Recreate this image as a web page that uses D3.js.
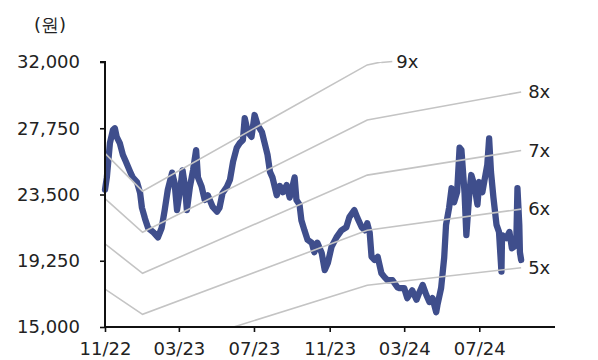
<!DOCTYPE html>
<html><head><meta charset="utf-8">
<script src="https://cdn.jsdelivr.net/npm/d3@7"></script>
<style>
html,body{margin:0;padding:0;background:#fff;}
svg text{font-family:"DejaVu Sans",sans-serif;fill:#222;}
</style></head>
<body><svg id="c" width="598" height="360"></svg>
<script>
const priceDates = ["2022-11-01","2022-11-04","2022-11-09","2022-11-14","2022-11-17","2022-11-20","2022-11-25","2022-11-30","2022-12-05","2022-12-12","2022-12-16","2022-12-23","2022-12-28","2022-12-31","2023-01-05","2023-01-10","2023-01-18","2023-01-26","2023-02-01","2023-02-06","2023-02-11","2023-02-18","2023-02-22","2023-02-26","2023-03-03","2023-03-07","2023-03-11","2023-03-14","2023-03-19","2023-03-24","2023-03-29","2023-04-01","2023-04-07","2023-04-12","2023-04-17","2023-04-25","2023-05-02","2023-05-06","2023-05-11","2023-05-18","2023-05-23","2023-05-28","2023-06-03","2023-06-08","2023-06-13","2023-06-16","2023-06-21","2023-06-27","2023-07-02","2023-07-07","2023-07-14","2023-07-18","2023-07-23","2023-07-27","2023-07-31","2023-08-07","2023-08-12","2023-08-17","2023-08-23","2023-08-28","2023-09-02","2023-09-05","2023-09-08","2023-09-13","2023-09-16","2023-09-21","2023-09-26","2023-10-03","2023-10-07","2023-10-12","2023-10-19","2023-10-24","2023-10-29","2023-11-04","2023-11-12","2023-11-20","2023-11-28","2023-12-03","2023-12-11","2023-12-16","2023-12-23","2023-12-28","2024-01-01","2024-01-05","2024-01-08","2024-01-13","2024-01-18","2024-01-24","2024-01-29","2024-02-03","2024-02-11","2024-02-19","2024-02-22","2024-03-01","2024-03-06","2024-03-14","2024-03-21","2024-03-26","2024-03-31","2024-04-06","2024-04-11","2024-04-16","2024-04-22","2024-04-24","2024-04-30","2024-05-05","2024-05-08","2024-05-13","2024-05-17","2024-05-21","2024-05-26","2024-05-30","2024-06-02","2024-06-07","2024-06-10","2024-06-15","2024-06-18","2024-06-23","2024-06-28","2024-07-01","2024-07-06","2024-07-11","2024-07-14","2024-07-17","2024-07-20","2024-07-24","2024-07-29","2024-08-02","2024-08-06","2024-08-07","2024-08-14","2024-08-19","2024-08-23","2024-08-30","2024-09-01","2024-09-04","2024-09-05","2024-09-07"];
const priceValues = [23800,24600,26800,27650,27750,27200,26800,26050,25600,24950,24600,24300,23600,22650,21950,21350,21100,20750,21350,22500,23800,24900,24250,22500,23800,25050,24000,22500,24000,25050,26350,24600,24000,23150,23450,22700,22400,22650,23600,24000,24450,25600,26500,26800,27000,28400,27500,27200,28600,27950,27500,26850,26050,24950,24600,23450,24050,23650,24100,23300,24100,24600,23150,22850,21850,21200,20600,20400,19800,20400,19750,18650,19100,20150,20750,21200,21400,22050,22500,22000,21400,21200,21650,21050,19500,19300,19500,18450,18200,18000,18000,17550,17500,17500,16850,17350,16750,17250,17700,17050,16600,16850,15950,16400,17500,19450,21550,22650,23900,23000,23650,26500,26350,23650,20900,23650,24750,24100,22850,24300,23650,24750,25400,27100,24950,23300,21550,21100,18550,20900,20700,21100,20050,20250,23900,21550,19800,19300];
const epsDates = ["2022-11-01","2023-01-01","2024-01-01","2024-09-07"];
const epsValues = [2905,2635,3535,3760];
const multiples = [5,6,7,8,9];
const bandLabels = ["5x","6x","7x","8x","9x"];
const yTicks = [15000,19250,23500,27750,32000];
const xTickDates = ["2022-11-01","2023-03-01","2023-07-01","2023-11-01","2024-03-01","2024-07-01"];
const xTickLabels = ["11/22","03/23","07/23","11/23","03/24","07/24"];
const unitLabel = "(원)";

const parse = d3.timeParse("%Y-%m-%d");
const svg = d3.select("#c");
const L = 105, R = 555, T = 62, B = 327;
const FS = 18;
const x = d3.scaleTime().domain([parse("2022-11-01"), parse("2024-11-01")]).range([L, R]);
const y = d3.scaleLinear().domain([15000, 32000]).range([B, T]);

svg.append("defs").append("clipPath").attr("id","clip")
  .append("rect").attr("x",L).attr("y",T).attr("width",R-L).attr("height",B-T);

// price line
const price = priceDates.map((d,i)=>({d:parse(d),v:priceValues[i]}));
svg.append("path").datum(price)
  .attr("fill","none").attr("stroke","#3f4e8c").attr("stroke-width",6.3)
  .attr("stroke-linejoin","round").attr("stroke-linecap","round")
  .attr("d", d3.line().x(p=>x(p.d)).y(p=>y(p.v)));

// PER bands
const eps = epsDates.map((d,i)=>({d:parse(d),e:epsValues[i]}));
const bandG = svg.append("g").attr("clip-path","url(#clip)");
multiples.forEach((m,k)=>{
  bandG.append("path").datum(eps)
    .attr("fill","none").attr("stroke","#c4c4c4").attr("stroke-width",1.6)
    .attr("d", d3.line().x(p=>x(p.d)).y(p=>y(p.e*m)));
});
// labels
multiples.forEach((m,k)=>{
  const last = eps[eps.length-1];
  let lx, ly;
  if (last.e*m > 32000) {
    let cx = x(last.d);
    for (let i=1;i<eps.length;i++){
      const a=eps[i-1], b=eps[i];
      if (a.e*m<=32000 && b.e*m>32000){
        const t=(32000-a.e*m)/(b.e*m-a.e*m);
        cx = x(a.d)+t*(x(b.d)-x(a.d));
      }
    }
    svg.append("line").attr("x1",cx).attr("x2",cx+11).attr("y1",y(32000)+0.5).attr("y2",y(32000)-0.5)
      .attr("stroke","#c4c4c4").attr("stroke-width",1.6);
    lx = cx+15; ly = y(32000);
  } else {
    lx = x(last.d)+7; ly = y(last.e*m);
  }
  svg.append("text").attr("x",lx).attr("y",ly).attr("dy","0.35em")
    .attr("font-size",FS).text(bandLabels[k]);
});

// axes
const yAxis = svg.append("g").attr("transform",`translate(${L},0)`)
  .call(d3.axisLeft(y).tickValues(yTicks).tickSize(5).tickPadding(20).tickFormat(d3.format(",")));
const xAxis = svg.append("g").attr("transform",`translate(0,${B})`)
  .call(d3.axisBottom(x).tickValues(xTickDates.map(parse)).tickSize(5).tickPadding(10)
    .tickFormat((d,i)=>xTickLabels[i]));
[yAxis,xAxis].forEach(g=>{
  g.select(".domain").attr("stroke","#111").attr("stroke-width",2);
  g.selectAll(".tick line").attr("stroke","#111").attr("stroke-width",1.6);
  g.selectAll(".tick text").attr("font-size",FS).attr("fill","#222")
    .attr("font-family","'DejaVu Sans',sans-serif");
});
yAxis.select(".domain").attr("d",`M-5,${T}H0V${B}`);
xAxis.select(".domain").attr("d",`M${L},0H${R}`);

svg.append("text").attr("x",50).attr("y",25).attr("dy","0.35em").attr("text-anchor","middle")
  .attr("font-size",18).attr("font-family","'Noto Sans CJK KR',sans-serif").text(unitLabel);
</script></body></html>
